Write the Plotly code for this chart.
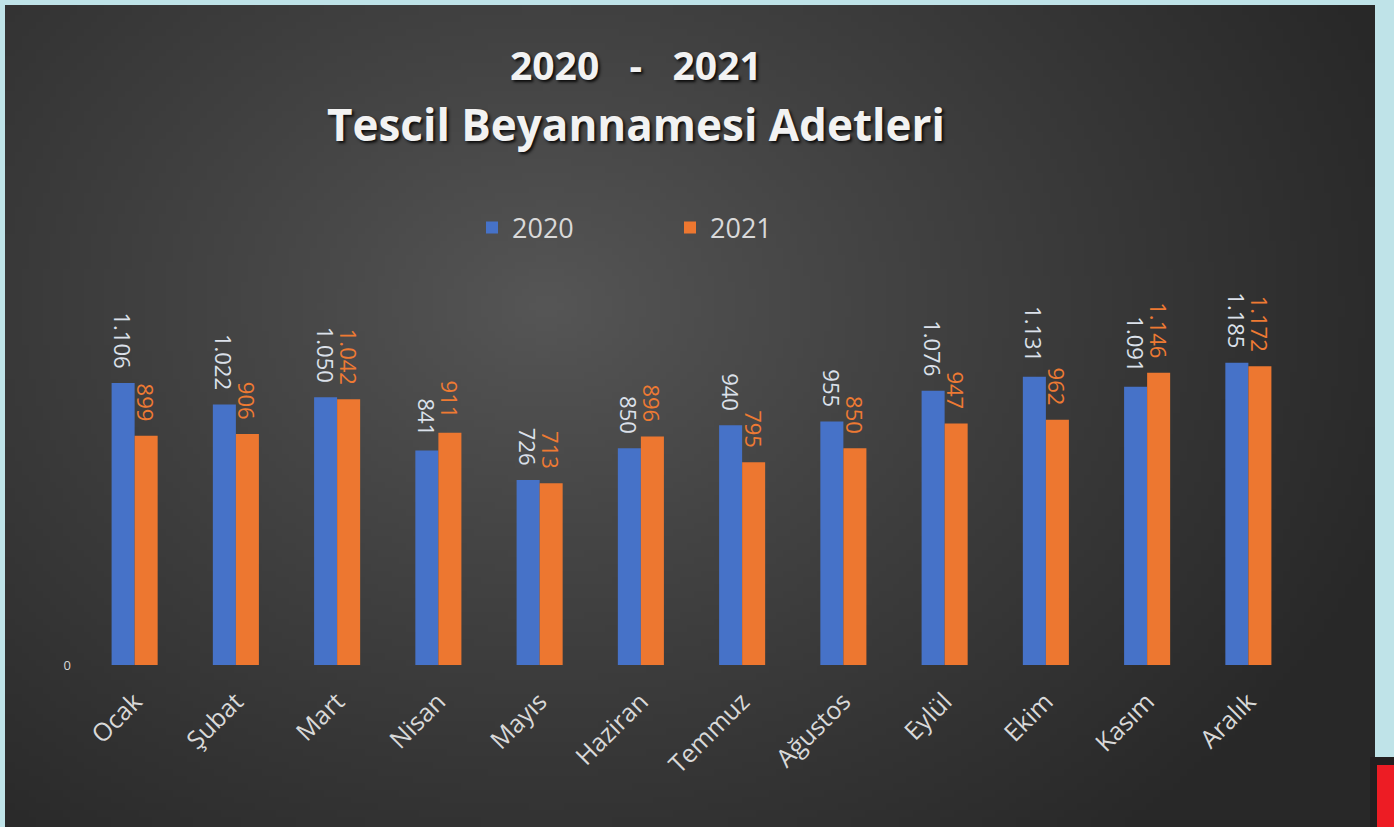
import base64, struct, zlib, math
import plotly.graph_objects as go

months = ["Ocak", "Şubat", "Mart", "Nisan", "Mayıs", "Haziran",
          "Temmuz", "Ağustos", "Eylül", "Ekim", "Kasım", "Aralık"]
v2020 = [1106, 1022, 1050, 841, 726, 850, 940, 955, 1076, 1131, 1091, 1185]
v2021 = [899, 906, 1042, 911, 713, 896, 795, 850, 947, 962, 1146, 1172]
title_line1 = "2020\u00a0\u00a0\u00a0-\u00a0\u00a0\u00a02021"
title_line2 = "Tescil Beyannamesi Adetleri"

W, H = 1394, 827
ML, MR, MT, MB = 84, 95, 280, 162
PW, PH = W - ML - MR, H - MT - MB


def px_x(x):
    return (x - ML) / PW


def px_y(y):
    return 1 - (y - MT) / PH


def png_data_uri(w, h, fn):
    raw = bytearray()
    for j in range(h):
        raw.append(0)
        for i in range(w):
            r, g, b = fn(i / (w - 1), j / (h - 1))
            raw += bytes((r, g, b))
    def chunk(t, d):
        c = struct.pack(">I", len(d)) + t + d
        return c + struct.pack(">I", zlib.crc32(t + d) & 0xffffffff)
    png = b"\x89PNG\r\n\x1a\n" + chunk(b"IHDR", struct.pack(">IIBBBBB", w, h, 8, 2, 0, 0, 0))
    png += chunk(b"IDAT", zlib.compress(bytes(raw), 9)) + chunk(b"IEND", b"")
    return "data:image/png;base64," + base64.b64encode(png).decode()


def radial(u, v):
    dx = (u * 1370 - 540) / 900
    dy = (v * 822 - 300) / 700
    d = min(1.0, math.sqrt(dx * dx + dy * dy))
    c = int(round(86 - (86 - 40) * d ** 0.9))
    return c, c, c


bg = png_data_uri(200, 120, radial)

fig = go.Figure()
fig.add_trace(go.Bar(
    x=months, y=v2020, name="2020",
    marker=dict(color="#4672c8", line=dict(width=0)),
    texttemplate="%{y:,}\u00a0\u00a0", textposition="outside", textangle=90,
    constraintext="none", cliponaxis=False,
    textfont=dict(color="#dce1ea", size=22, family="Open Sans"),
))
fig.add_trace(go.Bar(
    x=months, y=v2021, name="2021",
    marker=dict(color="#ed7730", line=dict(width=0)),
    texttemplate="%{y:,}\u00a0\u00a0", textposition="outside", textangle=90,
    constraintext="none", cliponaxis=False,
    textfont=dict(color="#ee7a33", size=22, family="Open Sans"),
))

fig.add_layout_image(dict(
    source=bg, xref="paper", yref="paper",
    x=px_x(5), y=px_y(5), sizex=px_x(1375) - px_x(5), sizey=px_y(5) - px_y(827),
    xanchor="left", yanchor="top", sizing="stretch", layer="below",
))

shapes = [
    dict(type="rect", xref="paper", yref="paper", layer="below",
         x0=px_x(1370), x1=px_x(1394), y0=px_y(757), y1=px_y(827),
         fillcolor="#231f20", line=dict(width=0)),
    dict(type="rect", xref="paper", yref="paper", layer="below",
         x0=px_x(1377), x1=px_x(1394), y0=px_y(765), y1=px_y(827),
         fillcolor="#ed1c24", line=dict(width=0)),
]

title_font = dict(family="Open Sans", color="#f2f2f2", weight="bold",
                  shadow="2px 2px 3px rgba(0,0,0,0.85)")
annotations = [
    dict(text=title_line1, xref="paper", yref="paper", x=px_x(636), y=px_y(64),
         xanchor="center", yanchor="middle", showarrow=False,
         font=dict(size=39, **title_font)),
    dict(text=title_line2, xref="paper", yref="paper", x=px_x(636), y=px_y(124),
         xanchor="center", yanchor="middle", showarrow=False,
         font=dict(size=44, **title_font)),
]

fig.update_layout(
    width=W, height=H, autosize=False,
    margin=dict(l=ML, r=MR, t=MT, b=MB, pad=0),
    paper_bgcolor="#bfe3e8", plot_bgcolor="rgba(0,0,0,0)",
    separators=",.",
    barmode="group", bargap=0.545, bargroupgap=0,
    shapes=shapes, annotations=annotations,
    legend=dict(
        orientation="h", xref="container", yref="container",
        x=472 / W, y=1 - 228 / H, xanchor="left", yanchor="middle",
        entrywidth=153, entrywidthmode="pixels",
        font=dict(family="Open Sans", size=27, color="#d9d9d9"),
        bgcolor="rgba(0,0,0,0)",
    ),
    xaxis=dict(
        tickangle=-45, showline=False, showgrid=False, ticks="",
        ticklabelstandoff=16,
        tickfont=dict(family="Open Sans", size=25, color="#d9d9d9"),
    ),
    yaxis=dict(
        range=[0, 1510], tickvals=[0], showgrid=False, zeroline=False,
        showline=False, ticks="", ticklabelstandoff=12,
        tickfont=dict(family="Open Sans", size=13, color="#d9d9d9"),
    ),
    showlegend=True,
)

fig.write_html("out.html", config={"displayModeBar": False},
               post_script="document.body.style.margin='0';document.body.style.overflow='hidden';")
